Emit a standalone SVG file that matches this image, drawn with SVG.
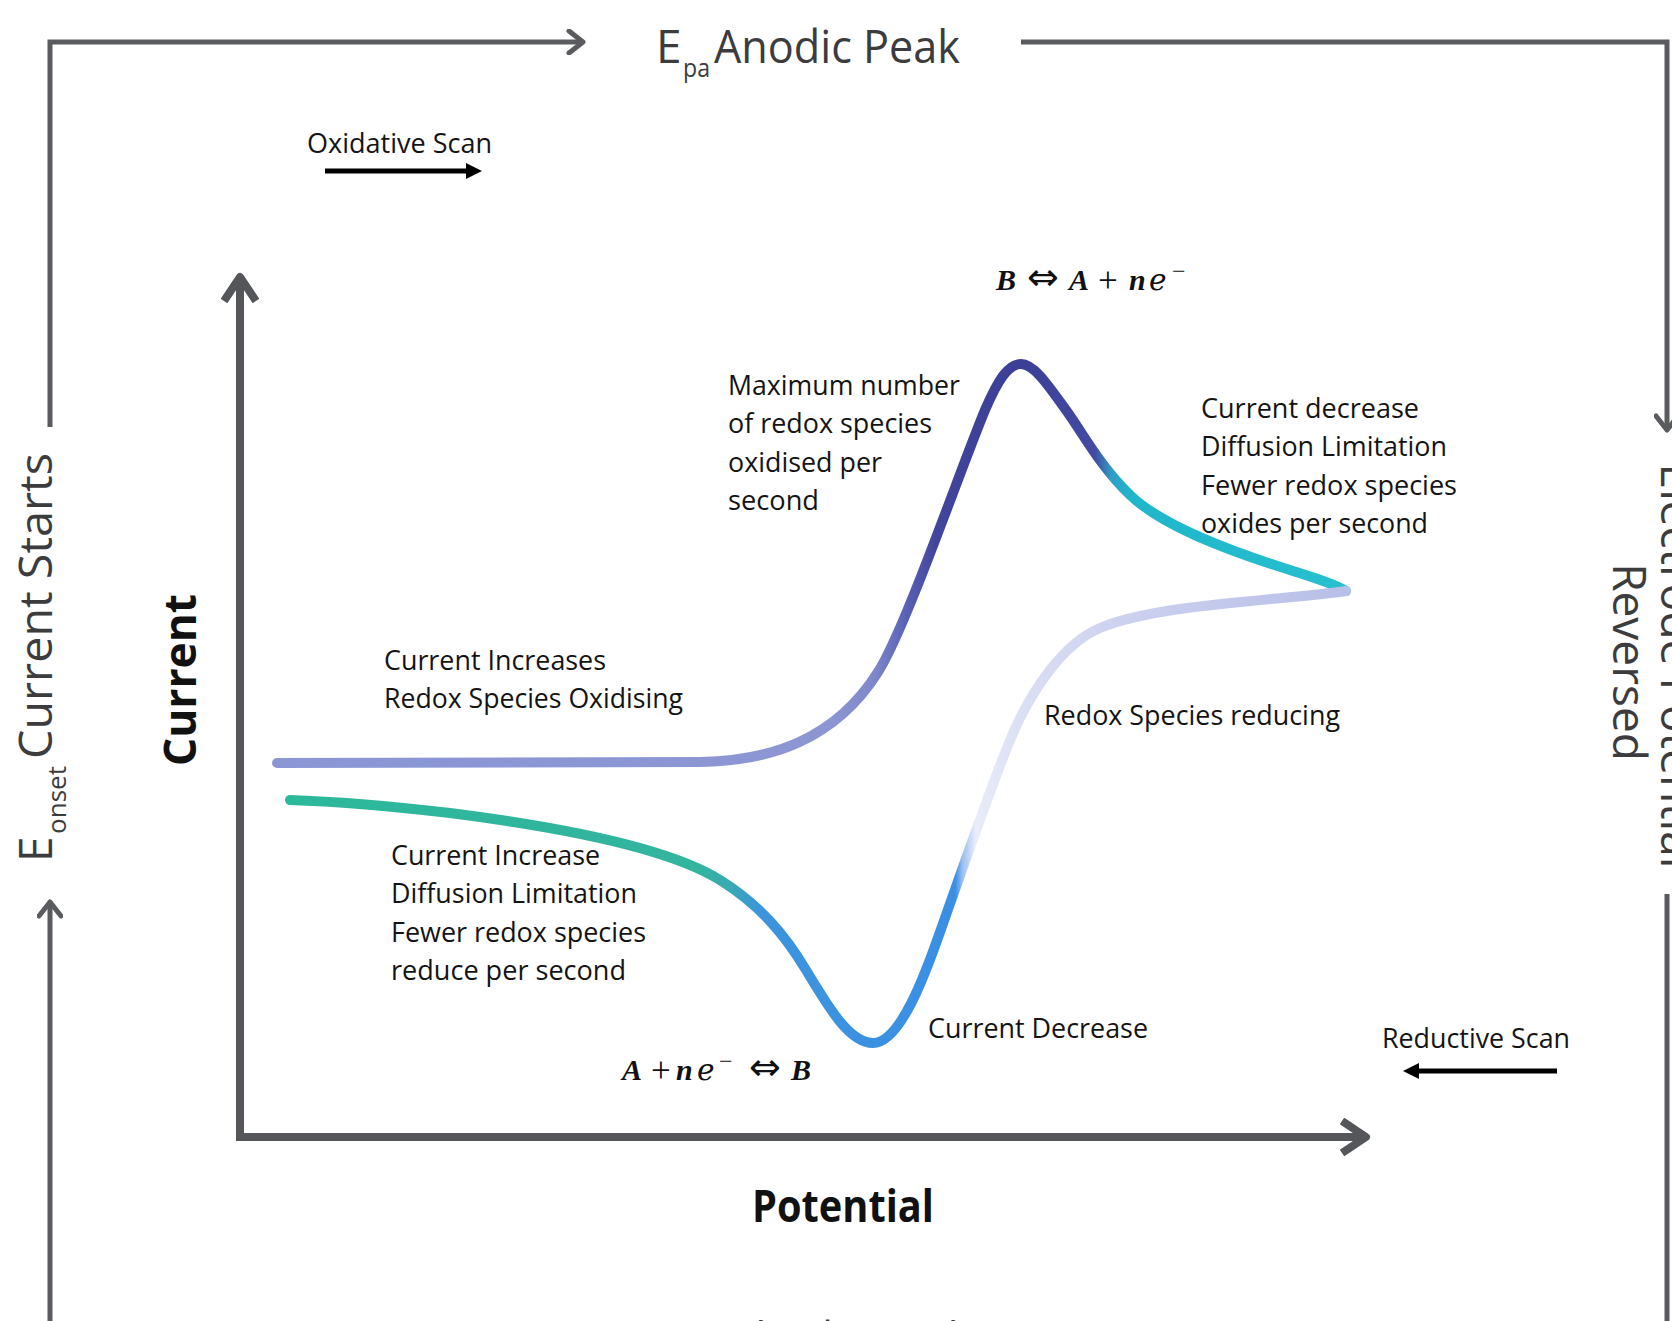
<svg xmlns="http://www.w3.org/2000/svg" width="1672" height="1321" viewBox="0 0 1672 1321">
<defs>
<style>
.frame{fill:none;stroke:#5a5b5e;stroke-width:5;stroke-linejoin:miter}
.axis{fill:none;stroke:#54565a;stroke-width:8}
.scan{fill:none;stroke:#000;stroke-width:5}
.curve{fill:none;stroke-width:10;stroke-linecap:round;stroke-linejoin:round}
.flbl{font-family:'Open Sans','Liberation Sans',sans-serif;font-size:46px;fill:#3c3c3e}
.fsub{font-family:'Open Sans','Liberation Sans',sans-serif;font-size:26px;fill:#3c3c3e}
.lbl{font-family:'Open Sans','Liberation Sans',sans-serif;font-size:28px;fill:#141414}
.ax{font-family:'Open Sans','Liberation Sans',sans-serif;font-size:44px;font-weight:bold;fill:#111}
.m{font-family:'Liberation Serif',serif;font-size:30px;font-weight:bold;font-style:italic;fill:#111}
.mr{font-family:'Liberation Serif',serif;font-size:35px;fill:#111}
.ms{font-family:'DejaVu Sans',sans-serif;font-size:38px;fill:#111}
.me{font-family:'DejaVu Serif','DejaVu Sans',serif;font-size:30px;fill:#111}
.sup{font-family:'Liberation Serif',serif;font-size:24px;fill:#111}
</style>
<marker id="chev" viewBox="0 0 20 26" refX="14" refY="13" markerWidth="20" markerHeight="26" markerUnits="userSpaceOnUse" orient="auto">
<path d="M 3 2 L 17 13 L 3 24" fill="none" stroke="#5a5b5e" stroke-width="5" stroke-linecap="round" stroke-linejoin="round"/>
</marker>
<marker id="axchev" viewBox="0 0 34 38" refX="24" refY="19" markerWidth="34" markerHeight="38" markerUnits="userSpaceOnUse" orient="auto">
<path d="M 4 3 L 28 19 L 4 35" fill="none" stroke="#54565a" stroke-width="8" stroke-linecap="butt" stroke-linejoin="round"/>
</marker>
<marker id="tri" viewBox="0 0 16 16" refX="1" refY="8" markerWidth="16" markerHeight="16" markerUnits="userSpaceOnUse" orient="auto">
<path d="M 0 0 L 16 8 L 0 16 Z" fill="#000"/>
</marker>
<linearGradient id="gOx" gradientUnits="userSpaceOnUse" x1="277" y1="0" x2="1346" y2="0">
<stop offset="0" stop-color="#8b96d6"/>
<stop offset="0.517" stop-color="#8c96d3"/>
<stop offset="0.559" stop-color="#7d87ca"/>
<stop offset="0.587" stop-color="#5b63b6"/>
<stop offset="0.616" stop-color="#40469c"/>
<stop offset="0.695" stop-color="#3b3f96"/>
<stop offset="0.765" stop-color="#434aa2"/>
<stop offset="0.781" stop-color="#2f9ec6"/>
<stop offset="0.798" stop-color="#1fb6ca"/>
<stop offset="1" stop-color="#26c0cf"/>
</linearGradient>
<linearGradient id="gRed" gradientUnits="userSpaceOnUse" x1="290" y1="0" x2="1346" y2="0">
<stop offset="0" stop-color="#2cb89b"/>
<stop offset="0.388" stop-color="#33b49f"/>
<stop offset="0.417" stop-color="#38a9b5"/>
<stop offset="0.445" stop-color="#3c94dc"/>
<stop offset="0.630" stop-color="#3a8fe4"/>
<stop offset="0.637" stop-color="#9cc0f0"/>
<stop offset="0.649" stop-color="#e9ecf9"/>
<stop offset="0.691" stop-color="#dbe0f5"/>
<stop offset="0.786" stop-color="#ccd1ef"/>
<stop offset="1" stop-color="#b8bfe8"/>
</linearGradient>
</defs>
<rect x="0" y="0" width="1672" height="1321" fill="#ffffff"/>

<g id="connectors">
<path class="frame" d="M 50 427 L 50 42 L 580 42" marker-end="url(#chev)"/>
<path class="frame" d="M 1021 42 L 1667 42 L 1667 427" marker-end="url(#chev)"/>
<path class="frame" d="M 50 1321 L 50 905" marker-end="url(#chev)"/>
<path class="frame" d="M 1667 894 L 1667 1321"/>
<path class="axis" d="M 240 1137 L 240 281" marker-end="url(#axchev)"/>
<path class="axis" d="M 236 1137 L 1362 1137" marker-end="url(#axchev)"/>
<path class="scan" d="M 325 171 L 467 171" marker-end="url(#tri)"/>
<path class="scan" d="M 1557 1071 L 1418 1071" marker-end="url(#tri)"/>
</g>

<g id="curves">
<path class="curve" stroke="url(#gOx)" d="M 277 763 L 700 762 C 770 761, 835 740, 878 672 C 905 630, 960 470, 985 410 C 998 380, 1008 364, 1021 364 C 1034 364, 1048 385, 1066 410 C 1084 435, 1100 466, 1130 495 C 1160 524, 1220 548, 1290 570 C 1315 578, 1335 584, 1346 591"/>
<path class="curve" stroke="url(#gRed)" d="M 1346 591 C 1290 600, 1160 603, 1100 628 C 1064 643, 1030 690, 1008 745 C 988 795, 962 870, 940 932 C 925 975, 900 1043, 873 1043 C 850 1043, 830 1010, 806 970 C 785 935, 760 905, 720 880 C 680 855, 600 832, 450 813 C 380 805, 320 801, 290 800"/>
</g>

<g id="node-epa">
<text class="flbl" x="656" y="63">E</text>
<text class="fsub" x="683" y="77" textLength="27" lengthAdjust="spacingAndGlyphs">pa</text>
<text class="flbl" x="714" y="63" textLength="246" lengthAdjust="spacingAndGlyphs">Anodic Peak</text>
</g>

<g id="node-eonset" transform="translate(52,862) rotate(-90)">
<text class="flbl" x="0" y="0">E</text>
<text class="fsub" x="28" y="14" textLength="68" lengthAdjust="spacingAndGlyphs">onset</text>
<text class="flbl" x="103" y="0" textLength="306" lengthAdjust="spacingAndGlyphs">Current Starts</text>
</g>

<g id="node-reversed">
<text class="flbl" text-anchor="middle" transform="translate(1661,666) rotate(90)">Electrode Potential</text>
<text class="flbl" text-anchor="middle" transform="translate(1613,662) rotate(90)">Reversed</text>
</g>

<g id="node-epc">
<text class="flbl" x="629" y="1355">E</text>
<text class="fsub" x="656" y="1369">pc</text>
<text class="flbl" x="690" y="1355" textLength="280" lengthAdjust="spacingAndGlyphs">Cathodic Peak</text>
</g>

<g id="node-oxscan">
<text class="lbl" x="307" y="153" textLength="185" lengthAdjust="spacingAndGlyphs">Oxidative Scan</text>
</g>

<g id="node-reductive">
<text class="lbl" x="1382" y="1048" textLength="188" lengthAdjust="spacingAndGlyphs">Reductive Scan</text>
</g>

<g id="node-current-axis">
<text class="ax" text-anchor="middle" transform="translate(196,680) rotate(-90)" textLength="172" lengthAdjust="spacingAndGlyphs">Current</text>
</g>

<g id="node-potential-axis">
<text class="ax" x="843" y="1222" text-anchor="middle" textLength="182" lengthAdjust="spacingAndGlyphs">Potential</text>
</g>

<g id="node-current-increases">
<text class="lbl" x="384" y="670" textLength="222" lengthAdjust="spacingAndGlyphs">Current Increases</text>
<text class="lbl" x="384" y="708" textLength="299" lengthAdjust="spacingAndGlyphs">Redox Species Oxidising</text>
</g>

<g id="node-maximum">
<text class="lbl" x="728" y="395" textLength="232" lengthAdjust="spacingAndGlyphs">Maximum number</text>
<text class="lbl" x="728" y="433" textLength="204" lengthAdjust="spacingAndGlyphs">of redox species</text>
<text class="lbl" x="728" y="472" textLength="154" lengthAdjust="spacingAndGlyphs">oxidised per</text>
<text class="lbl" x="728" y="510" textLength="91" lengthAdjust="spacingAndGlyphs">second</text>
</g>

<g id="node-current-decrease-ox">
<text class="lbl" x="1201" y="418" textLength="218" lengthAdjust="spacingAndGlyphs">Current decrease</text>
<text class="lbl" x="1201" y="456" textLength="246" lengthAdjust="spacingAndGlyphs">Diffusion Limitation</text>
<text class="lbl" x="1201" y="495" textLength="256" lengthAdjust="spacingAndGlyphs">Fewer redox species</text>
<text class="lbl" x="1201" y="533" textLength="227" lengthAdjust="spacingAndGlyphs">oxides per second</text>
</g>

<g id="node-redox-reducing">
<text class="lbl" x="1044" y="725" textLength="296" lengthAdjust="spacingAndGlyphs">Redox Species reducing</text>
</g>

<g id="node-current-increase-red">
<text class="lbl" x="391" y="865" textLength="209" lengthAdjust="spacingAndGlyphs">Current Increase</text>
<text class="lbl" x="391" y="903" textLength="246" lengthAdjust="spacingAndGlyphs">Diffusion Limitation</text>
<text class="lbl" x="391" y="942" textLength="255" lengthAdjust="spacingAndGlyphs">Fewer redox species</text>
<text class="lbl" x="391" y="980" textLength="235" lengthAdjust="spacingAndGlyphs">reduce per second</text>
</g>

<g id="node-current-decrease-red">
<text class="lbl" x="928" y="1038" textLength="220" lengthAdjust="spacingAndGlyphs">Current Decrease</text>
</g>

<g id="node-eq-ox">
<text y="290"><tspan class="m" x="996">B</tspan><tspan class="ms" x="1027">⇔</tspan><tspan class="m" x="1069">A</tspan><tspan class="mr" x="1098" y="292">+</tspan><tspan class="m" x="1129" y="290">n</tspan><tspan class="me" x="1149">ℯ</tspan><tspan class="sup" x="1172" y="279">−</tspan></text>
</g>

<g id="node-eq-red">
<text y="1080"><tspan class="m" x="622">A</tspan><tspan class="mr" x="651" y="1082">+</tspan><tspan class="m" x="676" y="1080">n</tspan><tspan class="me" x="697">ℯ</tspan><tspan class="sup" x="719" y="1069">−</tspan><tspan class="ms" x="749" y="1080">⇔</tspan><tspan class="m" x="791">B</tspan></text>
</g>
</svg>
